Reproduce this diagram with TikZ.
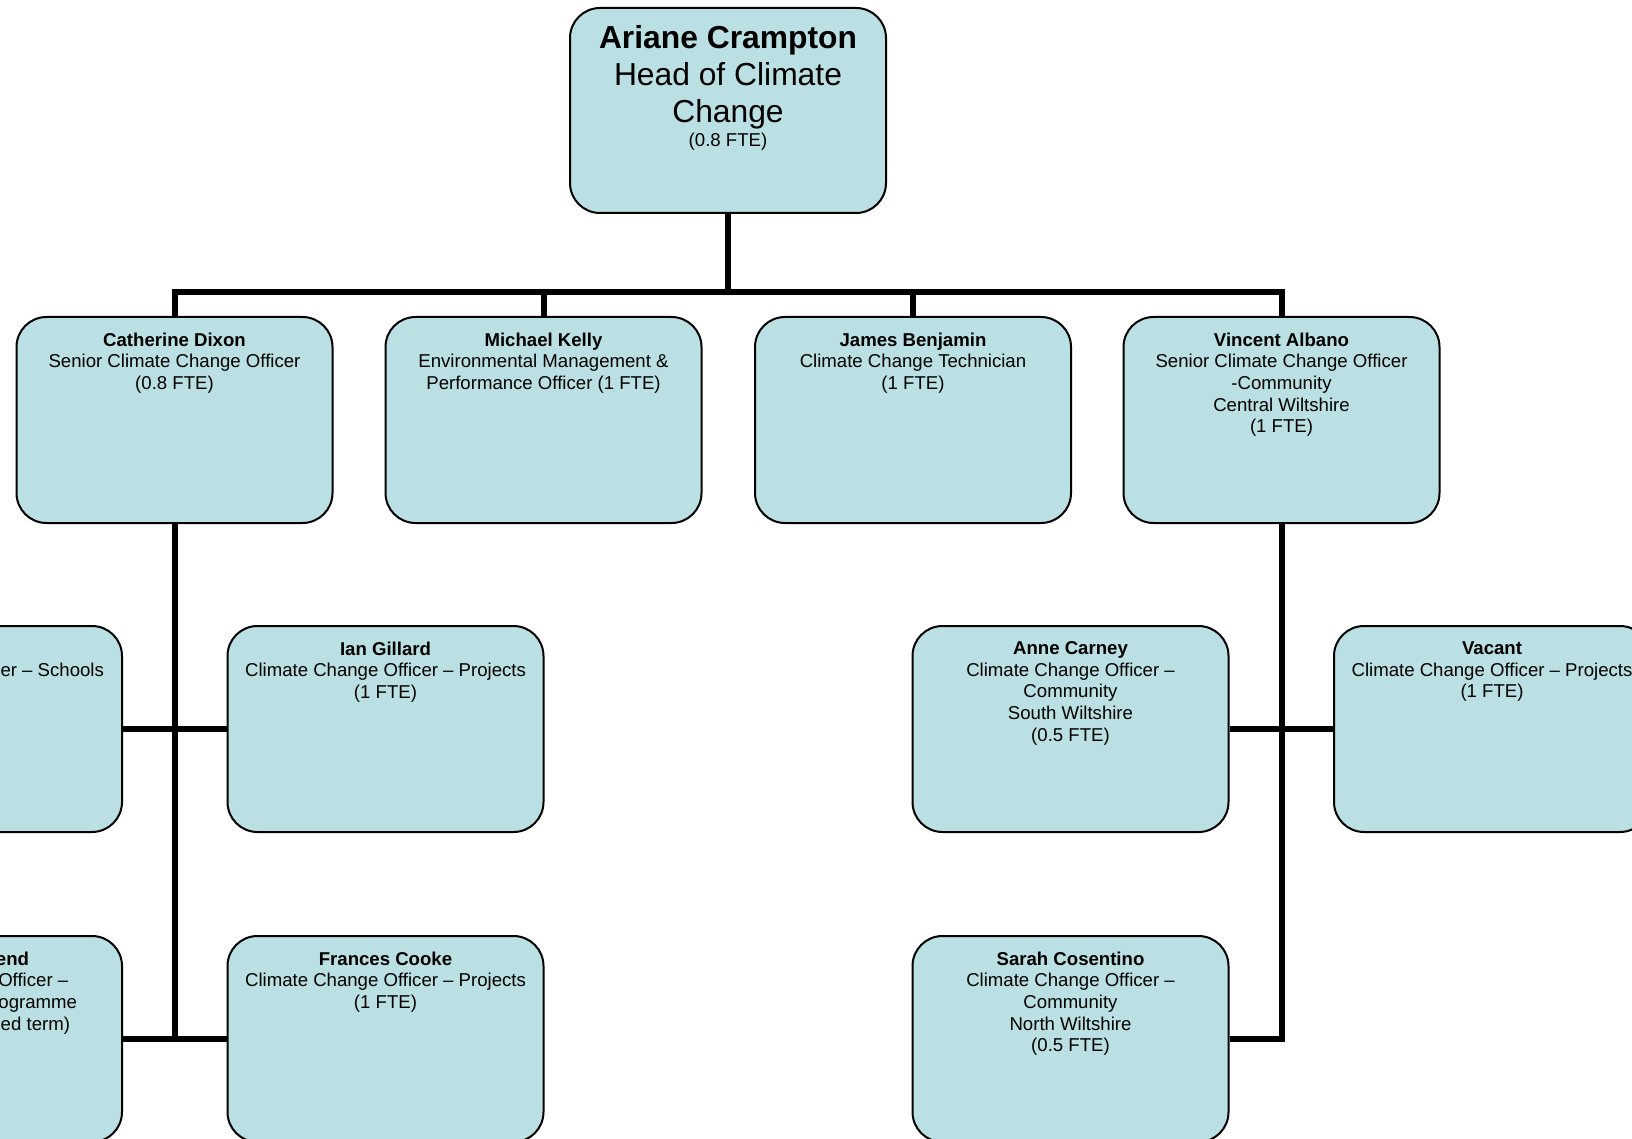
\documentclass[tikz,border=0pt]{standalone}
\usepackage{fontspec}
\setmainfont{Liberation Sans}
\definecolor{boxfill}{RGB}{186,224,227}
\tikzset{
  orgbox/.style={draw=black, line width=2pt, fill=boxfill, rounded corners=30pt,
    minimum width=316pt, minimum height=206pt, inner sep=0pt},
  txt/.style={anchor=north, inner sep=0pt, align=center, text=black,
    font=\fontsize{18.6}{21.6}\selectfont},
  conn/.style={draw=black, line width=6pt}
}
\begin{document}
\begin{tikzpicture}[x=1pt,y=-1pt]
\useasboundingbox (0,0) rectangle (1632,1139);
\clip (0,0) rectangle (1632,1139);
\fill[white] (0,0) rectangle (1632,1139);

% boxes
\node[orgbox, minimum height=205pt] (top) at (728,110.5) {};
\node[orgbox] (cd) at (174.5,420) {};
\node[orgbox] (mk) at (543.5,420) {};
\node[orgbox] (jb) at (913,420) {};
\node[orgbox] (va) at (1281.5,420) {};
\node[orgbox] (l1) at (-36,729) {};
\node[orgbox] (ig) at (385.5,729) {};
\node[orgbox] (ac) at (1070.5,729) {};
\node[orgbox] (vac) at (1492,729) {};
\node[orgbox] (l2) at (-36,1039) {};
\node[orgbox] (fc) at (385.5,1039) {};
\node[orgbox] (sc) at (1070.5,1039) {};

% texts
\node[txt, font=\fontsize{31.8}{37}\selectfont] (t-top) at ([yshift=-18.5pt]top.north)
  {\textbf{Ariane Crampton}\\Head of Climate\\Change\\[-13pt]{\fontsize{18.6}{21.6}\selectfont (0.8 FTE)}};
\node[txt] (t-cd) at ([yshift=-16.6pt]cd.north)
  {\textbf{Catherine Dixon}\\Senior Climate Change Officer\\(0.8 FTE)};
\node[txt] (t-mk) at ([yshift=-16.6pt]mk.north)
  {\textbf{Michael Kelly}\\Environmental Management \&\\Performance Officer (1 FTE)};
\node[txt] (t-jb) at ([yshift=-16.6pt]jb.north)
  {\textbf{James Benjamin}\\Climate Change Technician\\(1 FTE)};
\node[txt] (t-va) at ([yshift=-16.6pt]va.north)
  {\textbf{Vincent Albano}\\Senior Climate Change Officer\\-Community\\Central Wiltshire\\(1 FTE)};
\node[txt] (t-l1) at ([yshift=-16.6pt]l1.north)
  {\textbf{\phantom{X}}\\Climate Change Officer – Schools};
\node[txt] (t-ig) at ([yshift=-16.6pt]ig.north)
  {\textbf{Ian Gillard}\\Climate Change Officer – Projects\\(1 FTE)};
\node[txt] (t-ac) at ([yshift=-16.6pt]ac.north)
  {\textbf{Anne Carney}\\Climate Change Officer –\\Community\\South Wiltshire\\(0.5 FTE)};
\node[txt] (t-vac) at ([yshift=-16.6pt]vac.north)
  {\textbf{Vacant}\\Climate Change Officer – Projects\\(1 FTE)};
\node[txt] (t-l2) at ([yshift=-16.6pt]l2.north)
  {\makebox[130pt][r]{\textbf{end}}\\Climate Change Officer –\\\makebox[226pt][r]{ogramme}\\\makebox[212pt][r]{ed term)}};
\node[txt] (t-fc) at ([yshift=-16.6pt]fc.north)
  {\textbf{Frances Cooke}\\Climate Change Officer – Projects\\(1 FTE)};
\node[txt] (t-sc) at ([yshift=-16.6pt]sc.north)
  {\textbf{Sarah Cosentino}\\Climate Change Officer –\\Community\\North Wiltshire\\(0.5 FTE)};

% connectors
\coordinate (bar) at (0,292.5);
\draw[conn] (top.south) -- (top.south |- bar);
\draw[conn] (cd.north) -- (cd.north |- bar) -- (va.north |- bar) -- (va.north);
\draw[conn] (mk.north) -- (mk.north |- bar);
\draw[conn] (jb.north) -- (jb.north |- bar);

\draw[conn] (cd.south) -- (cd.south |- fc.west);
\draw[conn] (l1.east) -- (ig.west);
\draw[conn] (l2.east) -- (fc.west);

\draw[conn] (va.south) -- (va.south |- sc.east) -- (sc.east);
\draw[conn] (ac.east) -- (vac.west);
\end{tikzpicture}
\end{document}
